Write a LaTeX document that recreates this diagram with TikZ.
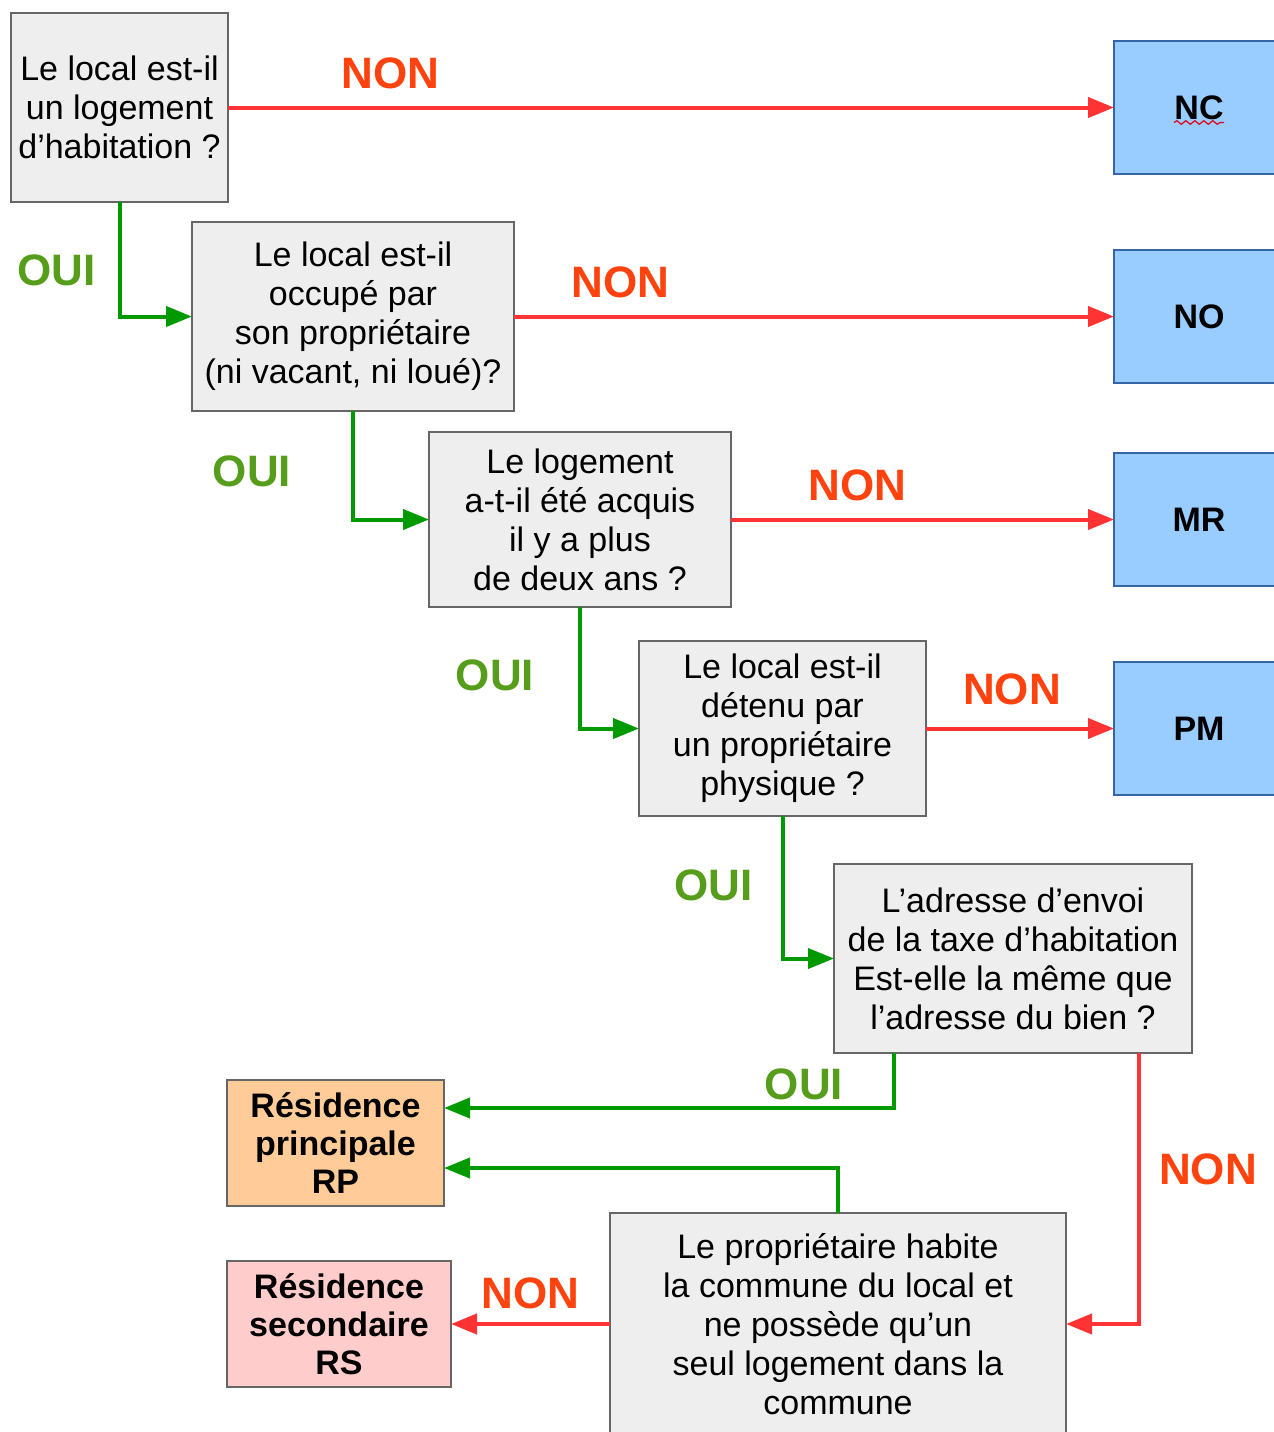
\documentclass[tikz,border=0pt]{standalone}
\usepackage{fontspec}
\setmainfont{Liberation Sans}
\usepackage{tikz}
\usetikzlibrary{arrows.meta,positioning,decorations.pathmorphing}
\definecolor{boxgray}{HTML}{EEEEEE}
\definecolor{boxline}{HTML}{666666}
\definecolor{resblue}{HTML}{99CCFF}
\definecolor{resblueline}{HTML}{3465A4}
\definecolor{resorange}{HTML}{FFCC99}
\definecolor{respink}{HTML}{FFCCCC}
\definecolor{linered}{HTML}{FF3333}
\definecolor{linegreen}{HTML}{009900}
\definecolor{txtred}{HTML}{FF420E}
\definecolor{txtgreen}{HTML}{579D1C}
\tikzset{
  question/.style={
    rectangle, draw=boxline, line width=1pt, fill=boxgray,
    align=center, inner sep=0pt, outer sep=0pt,
    font=\fontsize{17pt}{19.5pt}\selectfont
  },
  result/.style={
    rectangle, draw=resblueline, line width=1pt, fill=resblue,
    minimum width=85pt, minimum height=66.5pt, outer sep=0pt,
    font=\bfseries\fontsize{17pt}{19.5pt}\selectfont
  },
  residence/.style={
    rectangle, draw=boxline, line width=1pt, align=center,
    minimum height=63pt, inner sep=0pt, outer sep=0pt,
    font=\bfseries\fontsize{17pt}{19pt}\selectfont
  },
  oui/.style={-{Triangle[length=13pt,width=10pt]}, line width=2pt, linegreen},
  non/.style={-{Triangle[length=13pt,width=10pt]}, line width=2pt, linered},
  ouilabel/.style={font=\bfseries\fontsize{22pt}{24pt}\selectfont, text=txtgreen, inner sep=0pt},
  nonlabel/.style={font=\bfseries\fontsize{22pt}{24pt}\selectfont, text=txtred, inner sep=0pt},
}

\begin{document}
\begin{tikzpicture}
  \useasboundingbox (0,0) rectangle (637pt,-716pt);

  % Questions, stepping down to the right
  \node[question, anchor=north west, minimum width=108.5pt, minimum height=94.5pt]
    (local) at (5.5pt,-6.5pt) {Le local est-il\\un logement\\d'habitation ?};
  \node[question, below right=10pt and -18pt of local, minimum width=161pt, minimum height=94.5pt]
    (occupe) {Le local est-il\\occupé par\\son propriétaire\\(ni vacant, ni loué)?};
  \node[question, below right=10.5pt and -42.5pt of occupe, minimum width=151pt, minimum height=87.5pt]
    (acquis) {Le logement\\a-t-il été acquis\\il y a plus\\de deux ans ?};
  \node[question, below right=17pt and -46pt of acquis, minimum width=143.5pt, minimum height=87.5pt]
    (physique) {Le local est-il\\détenu par\\un propriétaire\\physique ?};
  \node[question, below right=24pt and -46pt of physique, minimum width=179pt, minimum height=94.5pt]
    (adresse) {L’adresse d’envoi\\de la taxe d’habitation\\Est-elle la même que\\l’adresse du bien ?};
  \node[question, below=80pt of adresse, xshift=-87.5pt, minimum width=228pt, minimum height=111pt]
    (commune) {Le propriétaire habite\\la commune du local et\\ne possède qu’un\\seul logement dans la\\commune};

  % Results on the right
  \node[result, right=443pt of local] (nc) {NC};
  \node[result, right=300pt of occupe] (no) {NO};
  \node[result, right=191.5pt of acquis] (mr) {MR};
  \node[result, right=94pt of physique] (pm) {PM};

  % Residences at the bottom left
  \node[residence, fill=respink, minimum width=112pt, left=79.5pt of commune]
    (rs) {Résidence\\secondaire\\RS};
  \node[residence, fill=resorange, minimum width=108.5pt, above=27.5pt of rs.north west, anchor=south west]
    (rp) {Résidence\\principale\\RP};

  % spell-check mark under NC
  \draw[decorate, decoration={snake, amplitude=0.9pt, segment length=4.5pt}, line width=0.6pt, red!60!purple]
    ([xshift=-12.5pt,yshift=-7.5pt]nc.center) -- ([xshift=12.5pt,yshift=-7.5pt]nc.center);

  % NON branches
  \draw[non] (local) -- node[nonlabel, above=8.5pt, pos=0.183] {NON} (nc);
  \draw[non] (occupe) -- node[nonlabel, above=8.5pt, pos=0.178] {NON} (no);
  \draw[non] (acquis) -- node[nonlabel, above=8.5pt, pos=0.33] {NON} (mr);
  \draw[non] (physique) -- node[nonlabel, above=11pt, pos=0.457] {NON} (pm);
  \draw[non] ([xshift=-26.5pt]adresse.south east) |- node[nonlabel, right=9pt, pos=0.215] {NON} (commune.east);
  \draw[non] (commune) -- node[nonlabel, above=6.5pt, midway] {NON} (rs);

  % OUI branches
  \draw[oui] (local.south) |- node[ouilabel, left=11pt, pos=0.3] {OUI} (occupe.west);
  \draw[oui] (occupe.south) |- node[ouilabel, left=30pt, pos=0.28] {OUI} (acquis.west);
  \draw[oui] (acquis.south) |- node[ouilabel, left=22pt, pos=0.28] {OUI} (physique.west);
  \draw[oui] (physique.south) |- node[ouilabel, left=14pt, pos=0.245] {OUI} (adresse.west);
  \draw[oui] ([xshift=30pt]adresse.south west) |- node[ouilabel, above=3pt, pos=0.6] {OUI} ([yshift=17.5pt]rp.east);
  \draw[oui] (commune.north) |- ([yshift=-12.5pt]rp.east);
\end{tikzpicture}
\end{document}
